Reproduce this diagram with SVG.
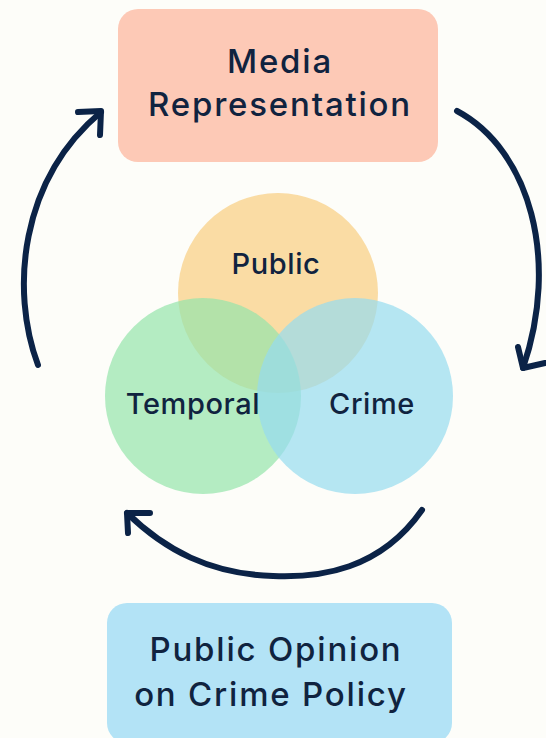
<svg xmlns="http://www.w3.org/2000/svg" width="546" height="738" viewBox="0 0 546 738">
<style>
.t{font-family:Inter,"Liberation Sans",sans-serif;font-weight:500;fill:#10233f;text-anchor:middle}
.big{font-size:33px;letter-spacing:1.8px}
.mid{font-size:29px;letter-spacing:0.6px}
.arr{fill:none;stroke:#0b2347;stroke-width:6;stroke-linecap:round;stroke-linejoin:round}
</style>
<rect width="546" height="738" fill="#fdfdf9"/>
<g id="media">
<rect x="118" y="9" width="320" height="153" rx="20" fill="#fdc9b6"/>
<text class="t big" x="280" y="73">Media</text>
<text class="t big" x="280" y="116">Representation</text>
</g>
<g id="venn">
<g id="public"><circle cx="278" cy="293" r="100" fill="#f8cd80" fill-opacity="0.7"/></g>
<g id="temporal"><circle cx="203" cy="396" r="98" fill="#94e4ab" fill-opacity="0.7"/></g>
<g id="crime"><circle cx="355" cy="396" r="98" fill="#96dcef" fill-opacity="0.7"/></g>
<text class="t mid" x="276" y="274">Public</text>
<text class="t mid" x="193" y="414">Temporal</text>
<text class="t mid" x="372" y="414">Crime</text>
</g>
<g id="opinion">
<rect x="107" y="603" width="345" height="140" rx="20" fill="#b3e3f6"/>
<text class="t big" x="276" y="661">Public Opinion</text>
<text class="t big" x="271" y="706">on Crime Policy</text>
</g>
<g id="connectors">
<path class="arr" d="M38 365 C10 290 20 180 101 112"/>
<path class="arr" d="M78 112 L101 111 L100 135"/>
<path class="arr" d="M457 111 C530 150 560 260 523 368"/>
<path class="arr" d="M518 347 L523 368 L545 363"/>
<path class="arr" d="M422 510 C380 570 320 578 273 576 C210 574 165 550 127 513"/>
<path class="arr" d="M150 513 L127 513 L128 533"/>
</g>
</svg>
